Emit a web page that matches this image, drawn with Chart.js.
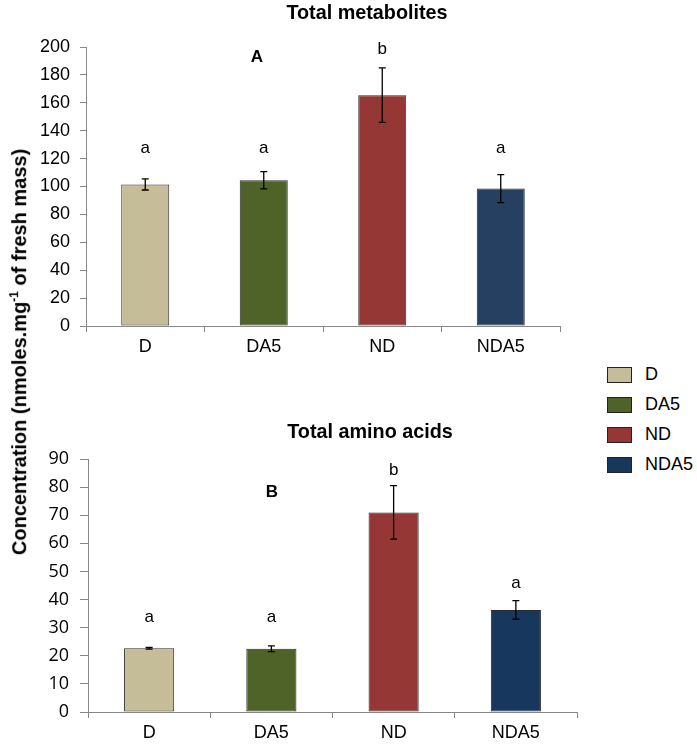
<!DOCTYPE html>
<html lang="en">
<head>
    <meta charset="UTF-8">
    <script src="https://cdn.jsdelivr.net/npm/chart.js@4.4.1/dist/chart.umd.min.js"></script>
    <title>Total metabolites and amino acids</title>
    <style>
        body { margin: 0; background: #fff; width: 697px; height: 745px; position: relative; overflow: hidden; font-family: "Liberation Sans", Arial, sans-serif; }
        canvas { position: absolute; left: 0; }
        .txt { position: absolute; white-space: nowrap; color: #000; }
        .title { font-weight: bold; font-size: 19.8px; transform: translateX(-50%); }
        .panel { font-weight: bold; font-size: 17px; transform: translateX(-50%); }
        #ytitle { font-weight: bold; font-size: 20px; left: 19px; top: 352px; transform: translate(-50%, -50%) rotate(-90deg); }
        #ytitle sup { font-size: 12px; }
        .leg { position: absolute; left: 607px; font-size: 18px; }
        .leg span { display: inline-block; width: 23px; height: 14px; border: 1px solid #222; vertical-align: middle; margin-right: 13px; }
    </style>
</head>
<body>

    <canvas id="chartA" width="600" height="360" style="top:0"></canvas>
    <canvas id="chartB" width="600" height="365" style="top:380px"></canvas>

    <div class="txt title" style="left:367px; top:1px">Total metabolites</div>
    <div class="txt panel" style="left:257px; top:47px">A</div>
    <div class="txt title" style="left:370px; top:420px">Total amino acids</div>
    <div class="txt panel" style="left:272px; top:482px">B</div>
    <div class="txt" id="ytitle">Concentration (nmoles.mg<sup>-1</sup> of fresh mass)</div>
    <div id="legend"></div>

    <script>
        const groups = ['D', 'DA5', 'ND', 'NDA5'];

        const metabolites = [101.5, 104.5, 165.5, 98.5];
        const metabolitesErr = [4, 6.2, 19.5, 10];
        const metabolitesLetters = ['a', 'a', 'b', 'a'];
        const metabolitesLetterY = [127.5, 127.5, 198, 127.5];
        const metabolitesColors = ['#C4BD97', '#4F6228', '#953735', '#254061'];

        const aminoAcids = [22.7, 22.5, 71, 36.3];
        const aminoAcidsErr = [0.3, 1, 9.5, 3.3];
        const aminoAcidsLetters = ['a', 'a', 'b', 'a'];
        const aminoAcidsLetterY = [33.8, 33.8, 86, 45.9];
        const aminoAcidsColors = ['#C4BD97', '#4F6228', '#953735', '#17375E'];

        const legendColors = ['#C4BD97', '#4F6228', '#953735', '#17375E'];

        // legend
        const legend = document.getElementById('legend');
        groups.forEach((g, i) => {
            const div = document.createElement('div');
            div.className = 'leg';
            div.style.top = (364 + i * 30) + 'px';
            div.innerHTML = '<span style="background:' + legendColors[i] + '"></span>' + g;
            legend.appendChild(div);
        });

        // error bars and letters above bars
        const extras = {
            id: 'extras',
            afterDatasetsDraw(chart, args, opts) {
                const ctx = chart.ctx;
                const y = chart.scales.y;
                const meta = chart.getDatasetMeta(0);
                ctx.save();
                ctx.strokeStyle = '#000';
                ctx.lineWidth = 1.3;
                meta.data.forEach((bar, i) => {
                    const v = chart.data.datasets[0].data[i];
                    const e = opts.err[i];
                    const top = y.getPixelForValue(v + e);
                    const bot = y.getPixelForValue(v - e);
                    ctx.beginPath();
                    ctx.moveTo(bar.x, top); ctx.lineTo(bar.x, bot);
                    ctx.moveTo(bar.x - 3.5, top); ctx.lineTo(bar.x + 3.5, top);
                    ctx.moveTo(bar.x - 3.5, bot); ctx.lineTo(bar.x + 3.5, bot);
                    ctx.stroke();
                    ctx.fillStyle = '#000';
                    ctx.font = '17px "Liberation Sans", Arial';
                    ctx.textAlign = 'center';
                    ctx.textBaseline = 'middle';
                    ctx.fillText(opts.letters[i], bar.x, y.getPixelForValue(opts.letterY[i]));
                });
                ctx.restore();
            }
        };

        function makeChart(id, values, colors, err, letters, letterY, max, step, cfg) {
            new Chart(document.getElementById(id), {
                type: 'bar',
                data: {
                    labels: groups,
                    datasets: [{
                        data: values,
                        backgroundColor: colors,
                        borderColor: '#2b2b2b',
                        borderWidth: 1,
                        borderSkipped: false,
                        barPercentage: cfg.barPct,
                        categoryPercentage: 1
                    }]
                },
                options: {
                    responsive: false,
                    animation: false,
                    layout: { padding: { top: cfg.padTop, right: cfg.padRight, bottom: 0, left: 0 } },
                    plugins: {
                        legend: { display: false },
                        tooltip: { enabled: false },
                        extras: { err: err, letters: letters, letterY: letterY }
                    },
                    scales: {
                        x: {
                            afterFit: s => { s.height = cfg.xHeight; },
                            border: { color: '#888' },
                            grid: { offset: true, drawOnChartArea: false, tickLength: 6, color: '#888' },
                            ticks: { color: '#000', padding: 4, font: { family: '"Liberation Sans", Arial', size: 18 } }
                        },
                        y: {
                            min: 0,
                            max: max,
                            afterFit: s => { s.width = cfg.yWidth; },
                            border: { color: '#888' },
                            grid: { drawOnChartArea: false, tickLength: cfg.yTick, color: '#888' },
                            ticks: { stepSize: step, color: '#000', padding: cfg.yPad, font: cfg.yFont }
                        }
                    }
                },
                plugins: [extras]
            });
        }

        makeChart('chartA', metabolites, metabolitesColors, metabolitesErr, metabolitesLetters, metabolitesLetterY, 200, 20,
            { barPct: 0.405, padTop: 47, padRight: 40, xHeight: 34, yWidth: 86, yTick: 6, yPad: 10,
              yFont: { family: '"Liberation Sans", Arial', size: 18 } });

        makeChart('chartB', aminoAcids, aminoAcidsColors, aminoAcidsErr, aminoAcidsLetters, aminoAcidsLetterY, 90, 10,
            { barPct: 0.41, padTop: 79, padRight: 23, xHeight: 33, yWidth: 88, yTick: 8, yPad: 11,
              yFont: { family: '"Open Sans", sans-serif', size: 18 } });
    </script>
</body>
</html>
